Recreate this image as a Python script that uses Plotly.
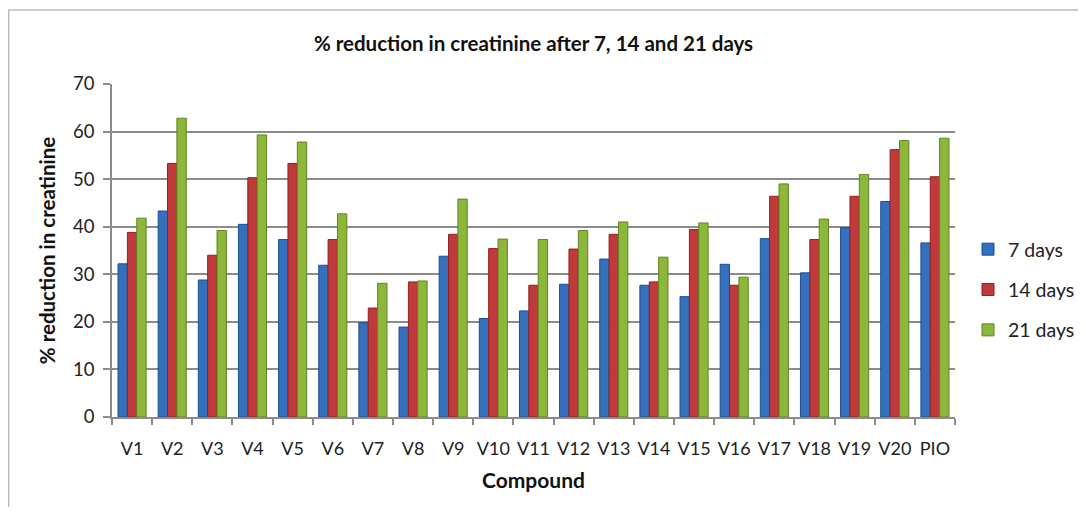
import plotly.graph_objects as go

compounds = ["V1", "V2", "V3", "V4", "V5", "V6", "V7", "V8", "V9", "V10",
             "V11", "V12", "V13", "V14", "V15", "V16", "V17", "V18", "V19", "V20", "PIO"]
days7 = [32.2, 43.3, 28.8, 40.5, 37.3, 31.9, 19.8, 18.9, 33.8, 20.7,
         22.3, 27.9, 33.2, 27.7, 25.3, 32.1, 37.5, 30.3, 39.8, 45.3, 36.6]
days14 = [38.8, 53.3, 34.0, 50.3, 53.3, 37.3, 22.9, 28.4, 38.4, 35.4,
          27.7, 35.3, 38.4, 28.4, 39.4, 27.7, 46.4, 37.3, 46.4, 56.2, 50.5]
days21 = [41.8, 62.8, 39.2, 59.3, 57.8, 42.7, 28.1, 28.6, 45.8, 37.4,
          37.3, 39.2, 41.0, 33.6, 40.8, 29.4, 49.0, 41.6, 51.0, 58.1, 58.6]
series_names = ["7 days", "14 days", "21 days"]
y_ticks = [0, 10, 20, 30, 40, 50, 60, 70]

FONT = "Lato, 'Open Sans', sans-serif"
fills = ["#3570BE", "#C0393B", "#8CB73A"]
edges = ["#1F4E8C", "#8E2224", "#5F8424"]

fig = go.Figure()
for name, vals, fc, ec, g in zip(series_names, [days7, days14, days21], fills, edges, ["a", "b", "c"]):
    fig.add_trace(go.Bar(
        x=compounds, y=vals, name=name, legendgroup=g,
        marker=dict(color=fc, line=dict(color=ec, width=1)),
    ))

# page body has an 8px margin; figure coordinates are reference minus 8
OFF = 8
W, H = 1086 - 2 * OFF, 515 - 2 * OFF
px0, px1 = 112 - OFF, 955 - OFF      # plot area x in figure px
py0, py1 = 84 - OFF, 417 - OFF       # plot area y in figure px
L, R, T, B = px0, W - px1, py0, H - py1
pw, ph = px1 - px0, py1 - py0

def fx(x):  # reference px -> paper x
    return (x - OFF - px0) / pw

def fy(y):  # reference px -> paper y
    return (py1 - (y - OFF)) / ph

fig.update_layout(
    width=W, height=H,
    margin=dict(l=L, r=R, t=T, b=B, autoexpand=False),
    paper_bgcolor="white", plot_bgcolor="white",
    barmode="group", bargap=0.3, bargroupgap=0.0,
    font=dict(family=FONT, size=18, color="#222222"),
    title=dict(text="<b>% reduction in creatinine after 7, 14 and 21 days</b>",
               x=0.5, xref="paper", xanchor="center",
               y=1 - (44 - OFF) / H, yref="container", yanchor="middle",
               font=dict(family=FONT, size=20.5, color="#111111")),
    legend=dict(x=fx(968), xanchor="left", y=fy(230), yanchor="top",
                font=dict(family=FONT, size=19.5, color="#222222"),
                tracegroupgap=12, traceorder="grouped", bgcolor="rgba(0,0,0,0)",
                itemwidth=30),
    xaxis=dict(
        title=dict(text="<b>Compound</b>", font=dict(family=FONT, size=21, color="#111111"), standoff=15),
        showline=True, linecolor="#8C8C8C", linewidth=1.5,
        ticks="outside", ticklen=6, tickcolor="#8C8C8C", tickwidth=1.5,
        tickson="boundaries", showgrid=False, ticklabelstandoff=15, tickangle=0,
        tickfont=dict(family=FONT, size=18, color="#222222"),
    ),
    yaxis=dict(
        title=dict(text="<b>% reduction in creatinine</b>", font=dict(family=FONT, size=20.5, color="#111111"), standoff=12),
        range=[0, 70], tickvals=y_ticks, ticktext=[str(v) for v in y_ticks],
        showline=True, linecolor="#8C8C8C", linewidth=1.5,
        ticks="outside", ticklen=7, tickcolor="#8C8C8C", tickwidth=1.5,
        showgrid=True, gridcolor="#8C8C8C", gridwidth=1.5,
        zeroline=False, ticklabelstandoff=5,
        tickfont=dict(family=FONT, size=18.5, color="#222222"),
    ),
    shapes=[dict(type="rect", xref="paper", yref="paper",
                 x0=fx(8.75), x1=fx(1100),
                 y0=fy(530), y1=fy(10),
                 line=dict(color="#BDBDBD", width=1.5), fillcolor="rgba(0,0,0,0)", layer="below")],
)

fig.write_html("out.html")
